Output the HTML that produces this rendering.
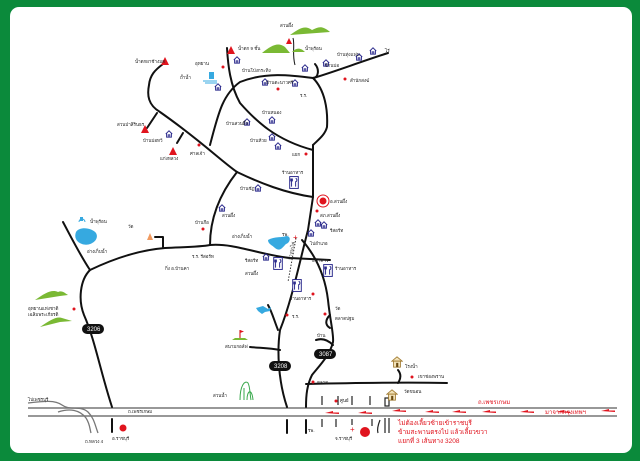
<!DOCTYPE html>
<html><head><meta charset="utf-8"><style>
html,body{margin:0;padding:0;background:#0b8a3b;}
svg{display:block}
text{font-family:"Liberation Sans","Noto Sans CJK SC",sans-serif;font-size:4.5px;fill:#222}
.r{stroke:#111;stroke-width:2;fill:none;stroke-linecap:round;stroke-linejoin:round}
.rt{fill:#e0141e}
</style></head><body>
<svg width="640" height="461" viewBox="0 0 640 461" xmlns="http://www.w3.org/2000/svg">
<defs>
<symbol id="h" viewBox="0 0 10 10"><path d="M1 5 L5 1 L9 5 M2 4 V9 H8 V4 M4 9 V6 H6 V9" fill="none" stroke="#2b2a8c" stroke-width="1.2"/></symbol>
<symbol id="f" viewBox="0 0 12 16"><rect x="0.7" y="0.7" width="10.6" height="14.6" fill="#fff" stroke="#2b2a8c" stroke-width="1.2"/><path d="M3 3 V13 M2 3 V6 H4 V3 M8 3 C10 3 10 7 8 7 V13" fill="none" stroke="#2b2a8c" stroke-width="1.2"/></symbol>
<symbol id="bh" viewBox="0 0 14 14"><path d="M1 6 L7 1 L13 6 Z" fill="#f2e2b8" stroke="#a07a30"/><rect x="3" y="6" width="8" height="7" fill="#f2e2b8" stroke="#a07a30"/><rect x="6" y="8" width="2.5" height="5" fill="#6a4a10"/></symbol>
</defs>
<rect x="0" y="0" width="640" height="461" fill="#0b8a3b"/>
<rect x="10" y="7" width="622" height="446" rx="9" fill="#fff"/>

<!-- highway -->
<line x1="28" y1="408" x2="617" y2="408" stroke="#777" stroke-width="1.5"/>
<line x1="28" y1="416" x2="617" y2="416" stroke="#777" stroke-width="1.5"/>
<path d="M28 403 C45 401 55 400 62 405 C70 411 80 405 88 412 C94 418 95 425 98 433" fill="none" stroke="#777" stroke-width="1.3"/>
<path d="M58 412 C70 408 80 410 86 418 C90 424 90 430 91 433" fill="none" stroke="#777" stroke-width="1.3"/>
<text x="128" y="413">ถ.เพชรเกษม</text>
<text x="28" y="401">ไปเพชรบุรี</text>
<text x="85" y="443">ถ.หลวง 4</text>

<!-- roads -->
<g class="r">
<path d="M63 222 C70 235 80 255 90 270 C80 280 78 300 84 315 C95 340 100 370 112 407"/>
<line x1="112" y1="419" x2="112" y2="432"/>
<path d="M90 270 C115 258 140 250 165 248 C185 247 200 247 210 245 C235 243 260 255 290 258 L330 260"/>
<path d="M163 247 V237 H155"/>
<path d="M210 245 C210 225 215 200 237 172"/>
<path d="M237 172 C220 160 200 140 160 112 C148 105 147 95 149 85 C150 75 155 70 163 64"/>
<path d="M157 113 L147 128"/>
<path d="M183 133 L177 143"/>
<path d="M237 172 C260 183 285 193 313 197"/>
<path d="M210 145 C218 115 222 95 240 82 C265 72 290 75 313 78 C318 78 320 70 315 64"/>
<path d="M313 78 C325 75 360 62 388 53"/>
<path d="M313 78 C325 90 328 110 327 127 C325 135 318 140 313 145"/>
<path d="M227 48 C228 65 230 85 240 103 C255 120 275 140 313 150"/>
<path d="M313 145 L313 197 L308 230 C300 260 292 300 280 330 C277 350 278 380 287 407"/>
<path d="M278 330 C274 320 272 312 268 305"/>
<path d="M250 347 C260 348 270 348 280 350"/>
<path d="M302 240 C315 255 325 275 328 300 C330 320 334 335 333 342 C330 355 320 365 312 375 C307 385 306 395 306 407"/>
<path d="M330 315 C325 320 325 325 330 328"/>
<path d="M316 340 C322 338 328 340 333 345"/>
<path d="M306 384 C350 383 400 382 447 383"/>
<path d="M398 370 C402 375 400 380 398 383"/>
<line x1="287" y1="420" x2="287" y2="433"/>
<line x1="306" y1="420" x2="306" y2="433"/>
</g>
<path d="M293 38 C295 45 292 55 295 65" stroke="#111" stroke-width="1" fill="none"/>
<!-- rail -->
<path d="M296 238 L288 282" stroke="#333" stroke-width="1" stroke-dasharray="1.5 1.5"/>
<text x="291" y="260" transform="rotate(-78 291 260)">ทางรถไฟ</text>

<!-- bottom right small roads -->
<g stroke="#222" stroke-width="1.2" fill="none">
<path d="M322 396 V405 M338 396 V405 M352 396 V405 M370 396 V405 M322 419 V427 M336 419 V427 M352 419 V425 M372 419 V426"/>
<rect x="385" y="398" width="4" height="8"/>
<path d="M385 418 V433 M389 418 V433"/>
<path d="M380 420 C378 425 377 430 378 433"/>
</g>
<g class="rt">
<path d="M325 413 l8 -2 v1.5 h6 v1.5 z"/><path d="M358 413 l8 -2 v1.5 h6 v1.5 z"/><path d="M392 411 l8 -2 v1.5 h6 v1.5 z"/>
<path d="M425 412 l8 -2 v1.5 h6 v1.5 z"/><path d="M452 412 l8 -2 v1.5 h6 v1.5 z"/><path d="M482 412 l8 -2 v1.5 h6 v1.5 z"/>
<path d="M520 412 l8 -2 v1.5 h6 v1.5 z"/><path d="M556 412 l8 -2 v1.5 h6 v1.5 z"/><path d="M601 411 l8 -2 v1.5 h6 v1.5 z"/>
</g>
<text x="478" y="404" style="fill:#e0141e;font-size:6px">ถ.เพชรเกษม</text>
<text x="545" y="414" style="fill:#e0141e;font-size:6px">มาจากกรุงเทพฯ</text>
<text x="398" y="425" style="fill:#e0141e;font-size:6.5px">ไม่ต้องเลี้ยวซ้ายเข้าราชบุรี</text>
<text x="398" y="434" style="fill:#e0141e;font-size:6.5px">ข้ามสะพานตรงไป แล้วเลี้ยวขวา</text>
<text x="398" y="443" style="fill:#e0141e;font-size:6.5px">แยกที่ 3 เส้นทาง 3208</text>

<!-- shields -->
<g><rect x="82" y="324" width="22" height="10" rx="5" fill="#111"/><text x="87" y="331" style="fill:#fff;font-size:6px">3206</text>
<rect x="269" y="361" width="22" height="10" rx="5" fill="#111"/><text x="274" y="368" style="fill:#fff;font-size:6px">3208</text>
<rect x="314" y="349" width="22" height="10" rx="5" fill="#111"/><text x="319" y="356" style="fill:#fff;font-size:6px">3087</text></g>

<!-- mountains -->
<g fill="#7ab934">
<path d="M290 35 C300 28 305 25 312 30 C318 27 322 25 330 32 Z"/>
<path d="M262 53 C272 45 278 42 285 47 L290 53 Z"/>
<path d="M292 52 C296 48 300 47 305 52 Z"/>
<path d="M35 300 C45 293 52 289 58 292 C62 290 65 293 68 295 L60 296 Z"/>
<path d="M40 327 C50 320 57 316 62 318 L72 321 L60 322 Z"/>
</g>
<!-- triangles -->
<g fill="#e0141e">
<path d="M165 57 l-4 8 h8z"/><path d="M231 46 l-4 8 h8z"/><path d="M289 38 l-3 6 h6z"/><path d="M145 125 l-4 8 h8z"/><path d="M173 147 l-4 8 h8z"/>
</g>
<!-- water -->
<path d="M76 232 C80 226 92 228 96 233 C100 240 90 247 82 244 C76 242 74 237 76 232Z" fill="#36a9e0"/>
<path d="M268 240 C275 236 282 238 286 236 C292 236 290 243 286 244 C282 248 280 252 275 248 C272 245 268 244 268 240Z" fill="#36a9e0"/>
<path d="M256 308 L263 306 L268 309 L271 307 L270 311 L265 312 L262 314 L258 311Z" fill="#36a9e0"/>
<rect x="209" y="72" width="5" height="7" fill="#36a9e0"/><path d="M203 81 h14 M205 83 h12" stroke="#36a9e0"/>
<path d="M79 222 a3 3 0 1 1 6 0" stroke="#36a9e0" fill="none"/><rect x="80" y="217" width="3" height="4" fill="#36a9e0"/>
<path d="M147 240 l3 -7 l3 7 z" fill="#f09a60"/>
<path d="M232 340 h16 l-3 -2 h-10z" fill="#7ab934"/><path d="M240 330 v8" stroke="#c00"/><path d="M240 330 l4 1.5 l-4 1.5z" fill="#e0141e"/>
<path d="M240 400 C240 385 245 380 248 383 C250 386 250 395 251 400 M244 400 V388 M247 400 C247 390 252 388 253 400" stroke="#39a84c" fill="none" stroke-width="1"/>
<!-- target -->
<circle cx="323" cy="201" r="6" fill="none" stroke="#e0141e" stroke-width="1"/><circle cx="323" cy="201" r="3.5" fill="#e0141e"/>
<circle cx="123" cy="428" r="3.5" fill="#e0141e"/><circle cx="365" cy="432" r="5" fill="#e0141e"/>
<text x="350" y="432" style="fill:#e0141e;font-size:8px">+</text>
<text x="293" y="240" style="fill:#e0141e;font-size:8px">+</text>

<!-- houses -->
<g>
<use href="#h" x="233" y="56" width="8" height="8"/><use href="#h" x="301" y="64" width="8" height="8"/><use href="#h" x="291" y="79" width="8" height="8"/>
<use href="#h" x="243" y="118" width="8" height="8"/><use href="#h" x="268" y="116" width="8" height="8"/><use href="#h" x="268" y="133" width="8" height="8"/><use href="#h" x="274" y="142" width="8" height="8"/>
<use href="#h" x="254" y="184" width="8" height="8"/><use href="#h" x="218" y="204" width="8" height="8"/><use href="#h" x="165" y="130" width="8" height="8"/>
<use href="#h" x="322" y="59" width="8" height="8"/><use href="#h" x="355" y="53" width="8" height="8"/><use href="#h" x="369" y="47" width="8" height="8"/>
<use href="#h" x="214" y="83" width="8" height="8"/><use href="#h" x="261" y="78" width="8" height="8"/>
<use href="#h" x="320" y="221" width="8" height="8"/><use href="#h" x="307" y="229" width="8" height="8"/><use href="#h" x="262" y="253" width="8" height="8"/><use href="#h" x="314" y="219" width="8" height="8"/>
<use href="#f" x="289" y="176" width="10" height="13"/><use href="#f" x="273" y="257" width="10" height="13"/><use href="#f" x="292" y="279" width="10" height="13"/><use href="#f" x="323" y="264" width="10" height="13"/>
<use href="#bh" x="391" y="356" width="12" height="12"/><use href="#bh" x="386" y="389" width="12" height="12"/>
</g>
<!-- red dots -->
<g fill="#e0141e">
<circle cx="278" cy="89" r="1.5"/><circle cx="223" cy="67" r="1.5"/><circle cx="345" cy="79" r="1.5"/><circle cx="306" cy="154" r="1.5"/><circle cx="199" cy="145" r="1.5"/>
<circle cx="317" cy="211" r="1.5"/><circle cx="203" cy="229" r="1.5"/><circle cx="74" cy="309" r="1.5"/><circle cx="287" cy="315" r="1.5"/><circle cx="313" cy="294" r="1.5"/>
<circle cx="325" cy="314" r="1.5"/><circle cx="313" cy="382" r="1.5"/><circle cx="412" cy="377" r="1.5"/><circle cx="336" cy="401" r="1.5"/><circle cx="207" cy="80" r="0"/>
</g>
<!-- labels -->
<text x="280" y="27">สวนผึ้ง</text><text x="305" y="50">น้ำพุร้อน</text><text x="238" y="50">น้ำตก 9 ชั้น</text>
<text x="195" y="65">อุทยาน</text><text x="242" y="72">บ้านโป่งกระทิง</text><text x="135" y="63">น้ำตกผาช้างมด</text>
<text x="180" y="79">ถ้ำน้ำ</text><text x="266" y="84">บ้านตะนาวศรี</text><text x="300" y="97">ร.ร.</text>
<text x="337" y="56">บ้านทุ่งแฟบ</text><text x="385" y="52">ไร่</text><text x="350" y="82">สำนักสงฆ์</text><text x="325" y="67">บ้านบ่อ</text>
<text x="117" y="126">สวนป่าสิรินธร</text><text x="143" y="142">บ้านบ่อหวี</text><text x="160" y="160">แก่งหลวง</text><text x="190" y="155">ศาลเจ้า</text>
<text x="226" y="125">บ้านสวนผึ้ง</text><text x="262" y="114">บ้านหนอง</text><text x="250" y="142">บ้านห้วย</text><text x="292" y="156">แยก</text>
<text x="282" y="174">ร้านอาหาร</text><text x="240" y="190">บ้านชัฏ</text><text x="222" y="217">สวนผึ้ง</text><text x="195" y="224">บ้านกือ</text>
<text x="330" y="203">อ.สวนผึ้ง</text><text x="320" y="217">สภ.สวนผึ้ง</text><text x="330" y="232">รีสอร์ท</text><text x="310" y="245">ไปอำเภอ</text>
<text x="232" y="238">อ่างเก็บน้ำ</text><text x="282" y="236">รพ.</text><text x="312" y="262">ธนาคาร</text><text x="335" y="270">ร้านอาหาร</text>
<text x="245" y="262">รีสอร์ท</text><text x="245" y="275">สวนผึ้ง</text><text x="290" y="300">ร้านอาหาร</text><text x="292" y="318">ร.ร.</text>
<text x="335" y="310">วัด</text><text x="335" y="320">ตลาดปฐม</text><text x="317" y="337">บ้าน</text><text x="225" y="348">สนามกอล์ฟ</text>
<text x="192" y="258">ร.ร. รีสอร์ท</text><text x="165" y="270">กิ่ง อ.บ้านคา</text><text x="87" y="253">อ่างเก็บน้ำ</text><text x="90" y="223">น้ำพุร้อน</text>
<text x="128" y="228">วัด</text><text x="28" y="310">อุทยานแห่งชาติ</text><text x="28" y="316">เฉลิมพระเกียรติ</text>
<text x="213" y="397">สวนน้ำ</text><text x="317" y="384">ตลาด</text><text x="405" y="368">โรงน้ำ</text><text x="418" y="378">เขาช่องพราน</text>
<text x="404" y="393">วัดขนอน</text><text x="340" y="402">ศูนย์</text><text x="112" y="440">อ.ราชบุรี</text><text x="335" y="440">จ.ราชบุรี</text>
<text x="308" y="432">รพ.</text>
</svg>
</body></html>
